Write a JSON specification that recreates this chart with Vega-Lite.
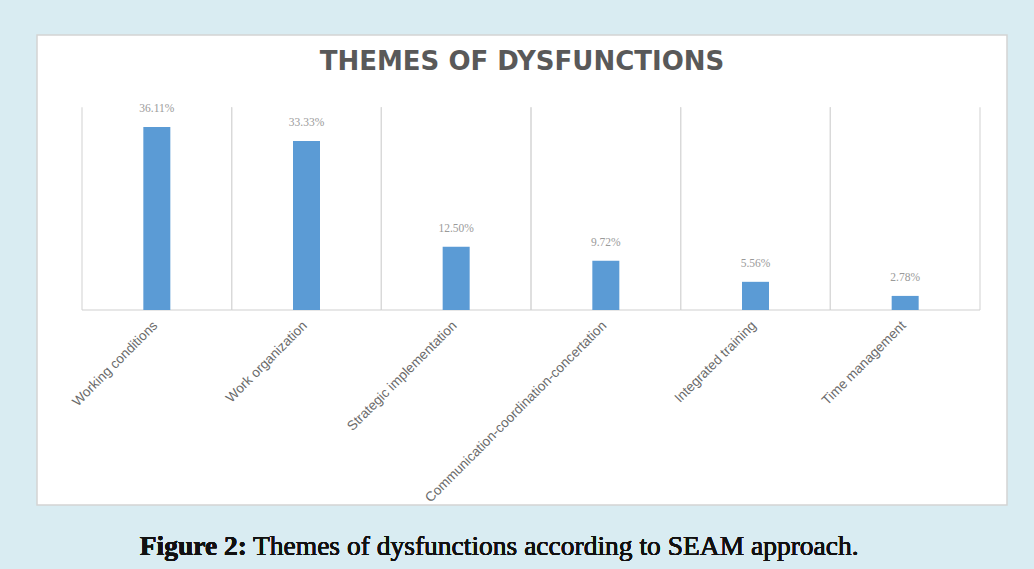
{
  "$schema": "https://vega.github.io/schema/vega-lite/v6.json",
  "autosize": "none",
  "width": 970,
  "height": 470,
  "padding": {"left": 37, "top": 35, "right": 27, "bottom": 64},
  "background": "#d9ecf2",
  "config": {"view": {"fill": "white", "stroke": "#d4d4d4", "strokeWidth": 1.5}},
  "title": {"text": "THEMES OF DYSFUNCTIONS", "font": "DejaVu Sans", "fontSize": 26, "fontWeight": "bold", "color": "#595959", "anchor": "middle", "frame": "group", "baseline": "bottom", "offset": -42, "dy": 24},
  "data": {"values": [
    {"theme": "Working conditions", "pct": 36.11, "label": "36.11%"},
    {"theme": "Work organization", "pct": 33.33, "label": "33.33%"},
    {"theme": "Strategic implementation", "pct": 12.50, "label": "12.50%"},
    {"theme": "Communication-coordination-concertation", "pct": 9.72, "label": "9.72%"},
    {"theme": "Integrated training", "pct": 5.56, "label": "5.56%"},
    {"theme": "Time management", "pct": 2.78, "label": "2.78%"}
  ]},
  "layer": [
    {"mark": {"type": "rule", "color": "#d9d9d9", "strokeWidth": 1.2},
     "encoding": {"x": {"field": "theme", "type": "nominal", "sort": null, "bandPosition": 0, "axis": null, "scale": {"type": "band", "range": [45, 943], "paddingInner": 0, "paddingOuter": 0}},
                  "y": {"datum": 0, "type": "quantitative", "scale": {"domain": [-38.46, 54.24], "nice": false, "zero": false}, "axis": null}, "y2": {"datum": 40}}},
    {"mark": {"type": "rule", "color": "#d9d9d9", "strokeWidth": 1.2},
     "encoding": {"x": {"field": "theme", "type": "nominal", "sort": null, "bandPosition": 1}, "y": {"datum": 0, "type": "quantitative"}, "y2": {"datum": 40}}},
    {"mark": {"type": "bar", "color": "#d0d0d0"},
     "encoding": {"x": {"field": "theme", "type": "nominal", "sort": null}, "y": {"datum": 0.12, "type": "quantitative"}, "y2": {"datum": -0.12}}},
    {"mark": {"type": "bar", "color": "#5b9bd5", "width": 27},
     "encoding": {"x": {"field": "theme", "type": "nominal", "sort": null}, "y": {"field": "pct", "type": "quantitative"}}},
    {"mark": {"type": "text", "font": "Liberation Serif", "fontSize": 11.5, "color": "#9a9a9a", "baseline": "bottom", "dy": -13},
     "encoding": {"x": {"field": "theme", "type": "nominal", "sort": null}, "y": {"field": "pct", "type": "quantitative"}, "text": {"field": "label"}}},
    {"mark": {"type": "text", "font": "Liberation Sans", "fontSize": 13.5, "color": "#6a6a6a", "angle": 315, "align": "right", "baseline": "middle", "dx": -2},
     "encoding": {"x": {"field": "theme", "type": "nominal", "sort": null}, "y": {"datum": -2.4, "type": "quantitative"}, "text": {"field": "theme"}}},
    {"mark": {"type": "text", "font": "Liberation Serif", "fontSize": 27.5, "fontWeight": "bold", "color": "#111111", "align": "right", "baseline": "alphabetic", "dx": -59.5},
     "encoding": {"x": {"datum": "Work organization", "type": "nominal"}, "y": {"datum": -48.3, "type": "quantitative"}, "text": {"value": "Figure 2:"}}},
    {"mark": {"type": "text", "font": "Liberation Serif", "fontSize": 27.5, "color": "#111111", "align": "left", "baseline": "alphabetic", "dx": -53.5},
     "encoding": {"x": {"datum": "Work organization", "type": "nominal"}, "y": {"datum": -48.3, "type": "quantitative"}, "text": {"value": "Themes of dysfunctions according to SEAM approach."}}}
  ]
}
